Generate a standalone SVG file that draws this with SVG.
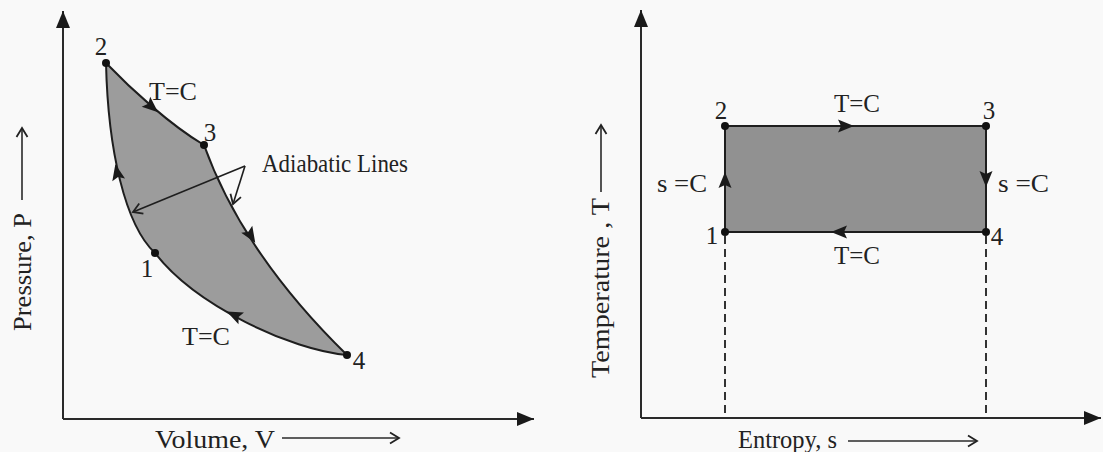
<svg xmlns="http://www.w3.org/2000/svg" width="1103" height="452" viewBox="0 0 1103 452">
<style>
.t{font-family:"Liberation Serif","Times New Roman",serif;font-size:25px;fill:#222}
.ln{fill:none;stroke:#1e1e1e;stroke-width:2}
.ax{fill:none;stroke:#2a2a2a;stroke-width:2}
.dash{fill:none;stroke:#333;stroke-width:2;stroke-dasharray:8 5}
.dot{fill:#111}
.ah{fill:#1a1a1a}
</style>
<defs>
<path id="tri" d="M8,0 L-8,-6.5 L-5,0 L-8,6.5 Z" class="ah"/>
<marker id="open" markerWidth="14" markerHeight="14" refX="10" refY="7" orient="auto" markerUnits="userSpaceOnUse">
<path d="M1,1.5 L10,7 L1,12.5" fill="none" stroke="#222" stroke-width="1.8"/>
</marker>
<marker id="fill" markerWidth="18" markerHeight="16" refX="17" refY="8" orient="auto" markerUnits="userSpaceOnUse">
<path d="M0,1 L17,8 L0,15 Z" fill="#1a1a1a"/>
</marker>
</defs>
<rect width="1103" height="452" fill="#f9f9f9"/>

<g id="pv-axes">
<path class="ax" d="M63,419 V11" marker-end="url(#fill)"/>
<path class="ax" d="M63,419 H534" marker-end="url(#fill)"/>
<text class="t" transform="translate(31,331) rotate(-90)" textLength="118" lengthAdjust="spacingAndGlyphs">Pressure, P</text>
<path class="ax" style="stroke-width:1.6" d="M22,200 V128" marker-end="url(#open)"/>
<text class="t" x="155" y="448" textLength="120" lengthAdjust="spacingAndGlyphs">Volume, V</text>
<path class="ax" style="stroke-width:1.6" d="M282,438 H399" marker-end="url(#open)"/>
</g>

<g id="pv-cycle">
<path d="M106,63 C130,88 170,125 204,145 C222,195 260,270 347,355 C290,350 195,305 155,253 C125,225 108,150 106,63 Z" fill="#9c9c9c" stroke="none"/>
</g>
<g id="ts-cycle">
<rect x="725" y="126" width="261" height="106" fill="#919191"/>
</g>

<g id="connectors">
<path id="pv-23" class="ln" d="M106,63 C130,88 170,125 204,145"/>
<path id="pv-34" class="ln" d="M204,145 C222,195 260,270 347,355"/>
<path id="pv-41" class="ln" d="M347,355 C290,350 195,305 155,253"/>
<path id="pv-12" class="ln" d="M155,253 C125,225 108,150 106,63"/>
<use href="#tri" transform="translate(152,107) rotate(41)"/>
<use href="#tri" transform="translate(251,236) rotate(58)"/>
<use href="#tri" transform="translate(234,315) rotate(205)"/>
<use href="#tri" transform="translate(117,172) rotate(-102)"/>
<path class="ln" style="stroke-width:1.6" d="M245,166 L133,212" marker-end="url(#open)"/>
<path class="ln" style="stroke-width:1.6" d="M245,166 L233,204" marker-end="url(#open)"/>

<path id="ts-23" class="ln" d="M725,126 H986"/>
<path id="ts-34" class="ln" d="M986,126 V232"/>
<path id="ts-41" class="ln" d="M986,232 H725"/>
<path id="ts-12" class="ln" d="M725,232 V126"/>
<use href="#tri" transform="translate(846,126)"/>
<use href="#tri" transform="translate(986,179) rotate(90)"/>
<use href="#tri" transform="translate(839,232) rotate(180)"/>
<use href="#tri" transform="translate(725,180) rotate(-90)"/>
<path class="dash" d="M725,236 V414"/>
<path class="dash" d="M986,236 V414"/>
</g>

<g id="pv-labels">
<text class="t" x="101" y="55" text-anchor="middle">2</text>
<text class="t" x="210" y="141" text-anchor="middle">3</text>
<text class="t" x="147" y="277" text-anchor="middle">1</text>
<text class="t" x="359" y="369" text-anchor="middle">4</text>
<text class="t" x="149" y="100" textLength="48" lengthAdjust="spacingAndGlyphs">T=C</text>
<text class="t" x="182" y="345" textLength="48" lengthAdjust="spacingAndGlyphs">T=C</text>
<text class="t" x="262" y="172" textLength="146" lengthAdjust="spacingAndGlyphs">Adiabatic Lines</text>
</g>
<g id="pv-points">
<circle class="dot" cx="106" cy="63" r="4"/>
<circle class="dot" cx="204" cy="145" r="4"/>
<circle class="dot" cx="155" cy="253" r="4"/>
<circle class="dot" cx="347" cy="355" r="4"/>
</g>

<g id="ts-axes">
<path class="ax" d="M641,418 V10" marker-end="url(#fill)"/>
<path class="ax" d="M641,418 H1101" marker-end="url(#fill)"/>
<text class="t" transform="translate(609,378) rotate(-90)" textLength="180" lengthAdjust="spacingAndGlyphs">Temperature , T</text>
<path class="ax" style="stroke-width:1.6" d="M601,192 V125" marker-end="url(#open)"/>
<text class="t" x="738" y="448" textLength="99" lengthAdjust="spacingAndGlyphs">Entropy, s</text>
<path class="ax" style="stroke-width:1.6" d="M848,441 H977" marker-end="url(#open)"/>
</g>

<g id="ts-labels">
<text class="t" x="721" y="119" text-anchor="middle">2</text>
<text class="t" x="989" y="119" text-anchor="middle">3</text>
<text class="t" x="712" y="244" text-anchor="middle">1</text>
<text class="t" x="997" y="245" text-anchor="middle">4</text>
<text class="t" x="834" y="112" textLength="46" lengthAdjust="spacingAndGlyphs">T=C</text>
<text class="t" x="834" y="264" textLength="46" lengthAdjust="spacingAndGlyphs">T=C</text>
<text class="t" x="657" y="192" textLength="50" lengthAdjust="spacingAndGlyphs">s =C</text>
<text class="t" x="998" y="192" textLength="51" lengthAdjust="spacingAndGlyphs">s =C</text>
</g>
<g id="ts-points">
<circle class="dot" cx="725" cy="126" r="4"/>
<circle class="dot" cx="986" cy="126" r="4"/>
<circle class="dot" cx="725" cy="232" r="4"/>
<circle class="dot" cx="986" cy="232" r="4"/>
</g>
</svg>
